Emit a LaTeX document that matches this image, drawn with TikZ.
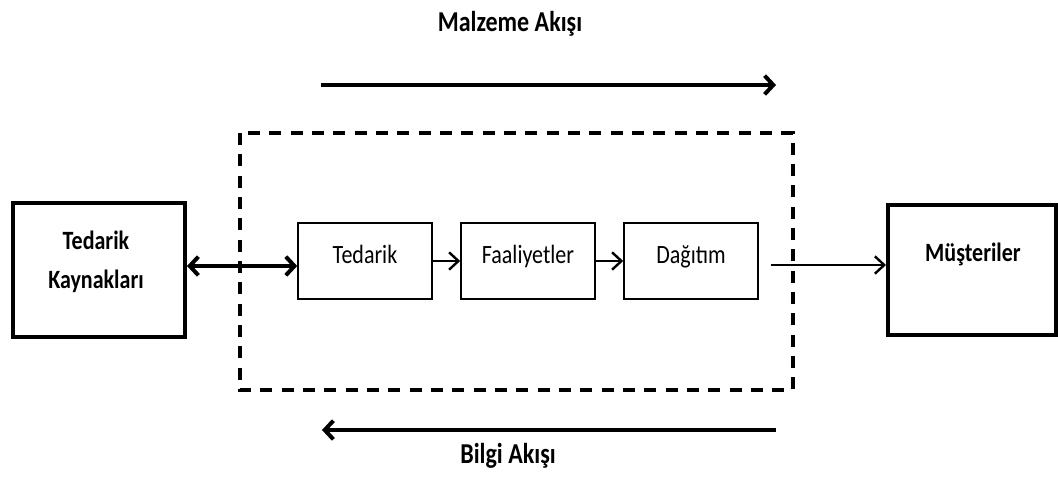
\documentclass[tikz,border=0pt]{standalone}
\usepackage{fontspec}
\usepackage{graphicx}
\setmainfont{Carlito}
\usetikzlibrary{arrows.meta}
% taller lettering, as in the printed labels
\newcommand{\tallbold}[2]{\scalebox{1}[1.2]{\bfseries\fontsize{#1}{#1}\selectfont #2}}
\newcommand{\tallplain}[2]{\scalebox{1}[1.2]{\fontsize{#1}{#1}\selectfont #2}}
\begin{document}
\begin{tikzpicture}[x=0.75pt,y=-0.75pt,
  bigbox/.style={draw,line width=3pt,inner sep=0pt},
  smallbox/.style={draw,line width=1.7pt,minimum width=100pt,minimum height=57pt,inner sep=0pt},
  txt/.style={anchor=base,inner sep=0pt},
  thinarrow/.style={line width=1.8pt,-{Straight Barb[length=7pt,width=13pt,line width=1.8pt]}},
  thickarrow/.style={line width=3pt,-{Straight Barb[length=6.5pt,width=14pt,line width=3pt]}}]
\useasboundingbox (0,0) rectangle (1058,476);

% supply chain boundary
\draw[line width=2.4pt,dash pattern=on 9pt off 7pt] (240,133) rectangle (793,390);

% outer boxes
\node[bigbox,minimum width=129pt,minimum height=100pt] (src) at (99,270) {};
\node[txt] (srctop) at (96,249) {\tallbold{16.5}{Tedarik}};
\node[txt] (srcbot) at (96,288) {\tallbold{16.5}{Kaynakları}};
\node[bigbox,minimum width=126pt,minimum height=97pt] (cus) at (972,270) {};
\node[txt] (custxt) at (973,261) {\tallbold{16.5}{Müşteriler}};

% internal stages
\node[smallbox] (ted) at (365,261) {};
\node[txt] (tedtxt) at (365,263) {\tallplain{16.5}{Tedarik}};
\node[smallbox] (faa) at (528,261) {};
\node[txt] (faatxt) at (528,263) {\tallplain{16.5}{Faaliyetler}};
\node[smallbox] (dag) at (691,261) {};
\node[txt] (dagtxt) at (691,263) {\tallplain{16.5}{Dağıtım}};

% connectors
\draw[line width=3pt,{Straight Barb[length=6.5pt,width=14pt,line width=3pt]}-{Straight Barb[length=6.5pt,width=14pt,line width=3pt]}] (src.east |- 0,266) -- (ted.west |- 0,266);
\draw[thinarrow] (ted) -- (faa);
\draw[thinarrow] (faa) -- (dag);
\draw[thinarrow,shorten <=9pt] (dag.east |- 0,265) -- (cus.west |- 0,265);

% flow arrows
\coordinate (m1) at (321,85);
\coordinate (m2) at (776,85);
\coordinate (b1) at (322,430);
\coordinate (b2) at (776,430);
\draw[thickarrow] (m1) -- (m2);
\draw[thickarrow] (b2) -- (b1);
\node[txt] (mal) at (510,31) {\tallbold{18}{Malzeme Akışı}};
\node[txt] (bil) at (508,463) {\tallbold{18}{Bilgi Akışı}};
\end{tikzpicture}
\end{document}
